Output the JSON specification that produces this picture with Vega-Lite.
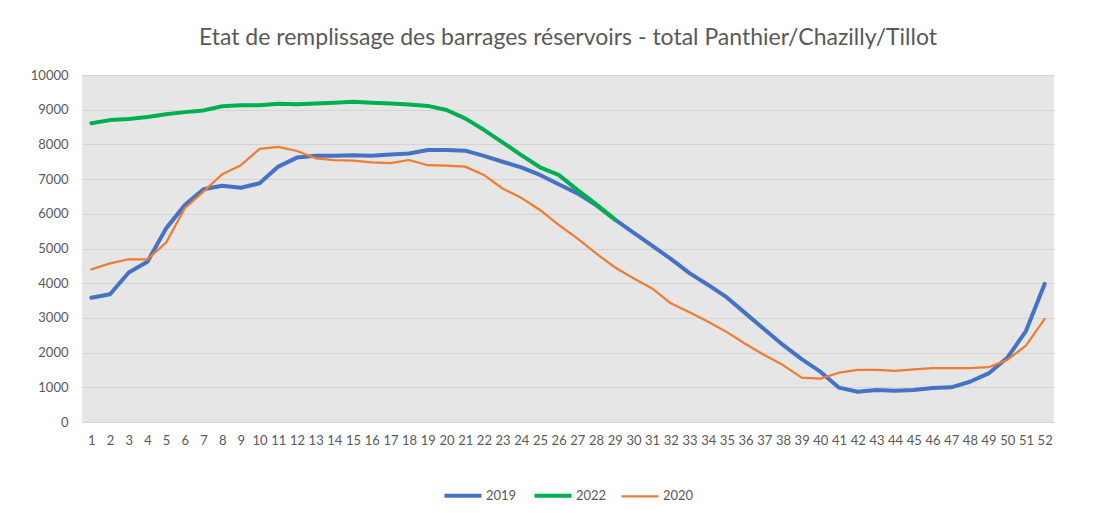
{
  "$schema": "https://vega.github.io/schema/vega-lite/v6.json",
  "width": 972,
  "height": 347,
  "autosize": {"type": "none"},
  "padding": {"left": 82, "top": 75, "right": 60, "bottom": 91},
  "background": "white",
  "title": {
    "text": "Etat de remplissage des barrages réservoirs - total Panthier/Chazilly/Tillot",
    "font": "Lato",
    "fontSize": 23,
    "fontWeight": "normal",
    "color": "#595959",
    "anchor": "middle",
    "offset": 19
  },
  "data": {
    "values": [
      {"week": 1, "series": "2019", "value": 3580},
      {"week": 2, "series": "2019", "value": 3680},
      {"week": 3, "series": "2019", "value": 4310},
      {"week": 4, "series": "2019", "value": 4620},
      {"week": 5, "series": "2019", "value": 5580},
      {"week": 6, "series": "2019", "value": 6250},
      {"week": 7, "series": "2019", "value": 6710},
      {"week": 8, "series": "2019", "value": 6810},
      {"week": 9, "series": "2019", "value": 6750},
      {"week": 10, "series": "2019", "value": 6880},
      {"week": 11, "series": "2019", "value": 7360},
      {"week": 12, "series": "2019", "value": 7620},
      {"week": 13, "series": "2019", "value": 7670},
      {"week": 14, "series": "2019", "value": 7670},
      {"week": 15, "series": "2019", "value": 7690},
      {"week": 16, "series": "2019", "value": 7670},
      {"week": 17, "series": "2019", "value": 7710},
      {"week": 18, "series": "2019", "value": 7740},
      {"week": 19, "series": "2019", "value": 7840},
      {"week": 20, "series": "2019", "value": 7840},
      {"week": 21, "series": "2019", "value": 7820},
      {"week": 22, "series": "2019", "value": 7670},
      {"week": 23, "series": "2019", "value": 7500},
      {"week": 24, "series": "2019", "value": 7340},
      {"week": 25, "series": "2019", "value": 7120},
      {"week": 26, "series": "2019", "value": 6850},
      {"week": 27, "series": "2019", "value": 6590},
      {"week": 28, "series": "2019", "value": 6250},
      {"week": 29, "series": "2019", "value": 5840},
      {"week": 30, "series": "2019", "value": 5460},
      {"week": 31, "series": "2019", "value": 5080},
      {"week": 32, "series": "2019", "value": 4700},
      {"week": 33, "series": "2019", "value": 4290},
      {"week": 34, "series": "2019", "value": 3950},
      {"week": 35, "series": "2019", "value": 3590},
      {"week": 36, "series": "2019", "value": 3130},
      {"week": 37, "series": "2019", "value": 2670},
      {"week": 38, "series": "2019", "value": 2220},
      {"week": 39, "series": "2019", "value": 1810},
      {"week": 40, "series": "2019", "value": 1450},
      {"week": 41, "series": "2019", "value": 990},
      {"week": 42, "series": "2019", "value": 870},
      {"week": 43, "series": "2019", "value": 920},
      {"week": 44, "series": "2019", "value": 900},
      {"week": 45, "series": "2019", "value": 920},
      {"week": 46, "series": "2019", "value": 980},
      {"week": 47, "series": "2019", "value": 1000},
      {"week": 48, "series": "2019", "value": 1160},
      {"week": 49, "series": "2019", "value": 1400},
      {"week": 50, "series": "2019", "value": 1850},
      {"week": 51, "series": "2019", "value": 2620},
      {"week": 52, "series": "2019", "value": 3980},
      {"week": 1, "series": "2022", "value": 8610},
      {"week": 2, "series": "2022", "value": 8700},
      {"week": 3, "series": "2022", "value": 8730},
      {"week": 4, "series": "2022", "value": 8790},
      {"week": 5, "series": "2022", "value": 8870},
      {"week": 6, "series": "2022", "value": 8930},
      {"week": 7, "series": "2022", "value": 8980},
      {"week": 8, "series": "2022", "value": 9100},
      {"week": 9, "series": "2022", "value": 9130},
      {"week": 10, "series": "2022", "value": 9130},
      {"week": 11, "series": "2022", "value": 9170},
      {"week": 12, "series": "2022", "value": 9160},
      {"week": 13, "series": "2022", "value": 9180},
      {"week": 14, "series": "2022", "value": 9200},
      {"week": 15, "series": "2022", "value": 9230},
      {"week": 16, "series": "2022", "value": 9200},
      {"week": 17, "series": "2022", "value": 9180},
      {"week": 18, "series": "2022", "value": 9150},
      {"week": 19, "series": "2022", "value": 9110},
      {"week": 20, "series": "2022", "value": 8990},
      {"week": 21, "series": "2022", "value": 8750},
      {"week": 22, "series": "2022", "value": 8420},
      {"week": 23, "series": "2022", "value": 8060},
      {"week": 24, "series": "2022", "value": 7690},
      {"week": 25, "series": "2022", "value": 7340},
      {"week": 26, "series": "2022", "value": 7120},
      {"week": 27, "series": "2022", "value": 6690},
      {"week": 28, "series": "2022", "value": 6280},
      {"week": 29, "series": "2022", "value": 5840},
      {"week": 1, "series": "2020", "value": 4400},
      {"week": 2, "series": "2020", "value": 4570},
      {"week": 3, "series": "2020", "value": 4690},
      {"week": 4, "series": "2020", "value": 4690},
      {"week": 5, "series": "2020", "value": 5170},
      {"week": 6, "series": "2020", "value": 6160},
      {"week": 7, "series": "2020", "value": 6640},
      {"week": 8, "series": "2020", "value": 7140},
      {"week": 9, "series": "2020", "value": 7400},
      {"week": 10, "series": "2020", "value": 7870},
      {"week": 11, "series": "2020", "value": 7930},
      {"week": 12, "series": "2020", "value": 7810},
      {"week": 13, "series": "2020", "value": 7600},
      {"week": 14, "series": "2020", "value": 7550},
      {"week": 15, "series": "2020", "value": 7530},
      {"week": 16, "series": "2020", "value": 7480},
      {"week": 17, "series": "2020", "value": 7460},
      {"week": 18, "series": "2020", "value": 7550},
      {"week": 19, "series": "2020", "value": 7400},
      {"week": 20, "series": "2020", "value": 7390},
      {"week": 21, "series": "2020", "value": 7360},
      {"week": 22, "series": "2020", "value": 7120},
      {"week": 23, "series": "2020", "value": 6730},
      {"week": 24, "series": "2020", "value": 6460},
      {"week": 25, "series": "2020", "value": 6110},
      {"week": 26, "series": "2020", "value": 5680},
      {"week": 27, "series": "2020", "value": 5290},
      {"week": 28, "series": "2020", "value": 4860},
      {"week": 29, "series": "2020", "value": 4460},
      {"week": 30, "series": "2020", "value": 4140},
      {"week": 31, "series": "2020", "value": 3850},
      {"week": 32, "series": "2020", "value": 3420},
      {"week": 33, "series": "2020", "value": 3160},
      {"week": 34, "series": "2020", "value": 2890},
      {"week": 35, "series": "2020", "value": 2590},
      {"week": 36, "series": "2020", "value": 2250},
      {"week": 37, "series": "2020", "value": 1930},
      {"week": 38, "series": "2020", "value": 1640},
      {"week": 39, "series": "2020", "value": 1280},
      {"week": 40, "series": "2020", "value": 1250},
      {"week": 41, "series": "2020", "value": 1420},
      {"week": 42, "series": "2020", "value": 1500},
      {"week": 43, "series": "2020", "value": 1500},
      {"week": 44, "series": "2020", "value": 1470},
      {"week": 45, "series": "2020", "value": 1520},
      {"week": 46, "series": "2020", "value": 1550},
      {"week": 47, "series": "2020", "value": 1550},
      {"week": 48, "series": "2020", "value": 1550},
      {"week": 49, "series": "2020", "value": 1580},
      {"week": 50, "series": "2020", "value": 1790},
      {"week": 51, "series": "2020", "value": 2200},
      {"week": 52, "series": "2020", "value": 2970}
    ]
  },
  "mark": {"type": "line", "strokeJoin": "round", "strokeCap": "round", "strokeWidth": {"expr": "datum.series === '2020' ? 2.25 : 4"}},
  "encoding": {
    "x": {
      "field": "week",
      "type": "ordinal",
      "scale": {"type": "point", "padding": 0.5},
      "axis": {"title": null, "labelAngle": 0, "labelOverlap": false, "grid": false, "ticks": false, "domain": false, "labelPadding": 12}
    },
    "y": {
      "field": "value",
      "type": "quantitative",
      "scale": {"domain": [0, 10000]},
      "axis": {"title": null, "values": [0,1000,2000,3000,4000,5000,6000,7000,8000,9000,10000], "format": "d", "ticks": false, "domain": false, "labelPadding": 14}
    },
    "color": {
      "field": "series",
      "type": "nominal",
      "scale": {"domain": ["2019", "2022", "2020"], "range": ["#4472C4", "#00B050", "#ED7D31"]},
      "legend": {
        "title": null, "orient": "none", "legendX": 374.5, "legendY": 414, "direction": "horizontal",
        "symbolType": "stroke", "symbolSize": 1369,
        "labelOffset": 16.5, "columnPadding": 10, "labelFont": "Lato", "labelFontSize": 13, "labelColor": "#595959",
        "encode": {"symbols": {"update": {"size": {"value": 1369}, "shape": {"value": "stroke"}, "strokeWidth": {"signal": "datum.value === '2020' ? 2.25 : 4"}}}}
      }
    }
  },
  "config": {
    "view": {"fill": "#E7E6E6", "stroke": null},
    "axis": {"labelFont": "Lato", "labelFontSize": 13, "labelColor": "#595959", "gridColor": "#D4D4D4", "gridWidth": 1}
  }
}
